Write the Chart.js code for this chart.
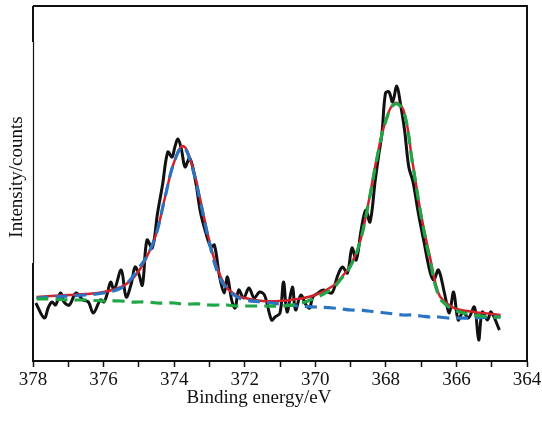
<!DOCTYPE html>
<html lang="en">
<head>
    <meta charset="UTF-8">
    <title>XPS spectrum</title>
    <style>
        body {
            margin: 0;
            padding: 0;
            background-color: #fff;
        }

        canvas {
            display: block;
        }
    </style>
</head>
<body>
    <canvas id="xpsChart" width="542" height="421"></canvas>

    <script src="https://cdn.jsdelivr.net/npm/chart.js"></script>
    <script>
        // raw spectrum (binding energy in eV, intensity in arbitrary units)
        const rawEnergy = [377.92, 377.68, 377.56, 377.46, 377.36, 377.22, 377.12, 376.97, 376.78, 376.58,
            376.43, 376.29, 376.09, 375.99, 375.89, 375.80, 375.70, 375.50, 375.36, 375.21,
            375.11, 375.01, 374.90, 374.77, 374.62, 374.47, 374.33, 374.18, 374.06, 373.98,
            373.89, 373.79, 373.69, 373.56, 373.40, 373.25, 373.10, 372.96, 372.86, 372.71,
            372.58, 372.49, 372.37, 372.27, 372.17, 372.03, 371.88, 371.73, 371.58, 371.44,
            371.24, 371.14, 371.00, 370.90, 370.80, 370.65, 370.56, 370.41, 370.26, 370.16,
            370.07, 369.92, 369.77, 369.53, 369.38, 369.23, 369.09, 368.96, 368.84, 368.70,
            368.57, 368.45, 368.30, 368.21, 368.11, 368.01, 367.91, 367.81, 367.69, 367.59,
            367.47, 367.35, 367.23, 367.08, 366.93, 366.74, 366.64, 366.51, 366.34, 366.20,
            366.08, 365.95, 365.81, 365.66, 365.49, 365.37, 365.27, 365.12, 365.02, 364.78];
        const rawCounts = [58, 43, 54, 59, 56, 68, 59, 56, 68, 61,
            59, 48, 61, 59, 68, 79, 71, 91, 64, 78,
            94, 88, 76, 121, 113, 148, 176, 209, 204, 214,
            222, 211, 194, 203, 181, 148, 128, 114, 116, 84,
            68, 84, 61, 53, 71, 63, 73, 63, 69, 66,
            41, 44, 48, 79, 49, 74, 51, 66, 56, 53,
            64, 68, 71, 68, 84, 94, 88, 113, 101, 131,
            151, 139, 181, 204, 228, 268, 269, 259, 275, 258,
            231, 194, 179, 148, 121, 88, 81, 91, 68, 48,
            69, 41, 49, 43, 54, 21, 49, 41, 49, 31];

        // fitted curves on a common energy grid
        const fitEnergy = [377.9, 377.5, 377.0, 376.5, 376.0, 375.5, 375.25, 375.0, 374.75, 374.5,
            374.25, 374.0, 373.75, 373.5, 373.25, 373.0, 372.75, 372.5, 372.25, 372.0,
            371.5, 371.0, 370.5, 370.0, 369.5, 369.25, 369.0, 368.75, 368.5, 368.25,
            368.0, 367.75, 367.5, 367.25, 367.0, 366.75, 366.5, 366.25, 366.0, 365.5,
            365.0, 364.75];
        const envelope = [64, 65, 66, 67, 69, 74, 80, 90, 106, 128,
            165, 199, 215, 197, 160, 120, 90, 73, 66, 63,
            60, 60, 62, 66, 75, 84, 96, 117, 157, 204,
            241, 258, 251, 200, 146, 104, 67, 57, 52, 49,
            47, 46];
        const peak1 = [63, 64, 65, 66, 68, 73, 81, 93, 106, 128,
            165, 199, 214, 195, 158, 118, 87, 72, 65, 61,
            59, 57, 55, 54, 53, 52, 51, 51, 50, 49,
            48, 47, 46, 46, 45, 44, 44, 43, 43, 43,
            44, 44];
        const peak2 = [62, 62, 61, 61, 60, 60, 59, 59, 59, 58,
            58, 58, 57, 57, 57, 56, 56, 56, 55, 55,
            55, 55, 57, 63, 73, 83, 95, 117, 156, 203,
            240, 257, 250, 199, 145, 101, 65, 55, 50, 46,
            44, 44];

        const xTicks = [378, 376, 374, 372, 370, 368, 366, 364];
        const xTitle = 'Binding energy/eV';
        const yTitle = 'Intensity/counts';

        function toPoints(xs, ys) {
            return xs.map((x, i) => ({ x: x, y: ys[i] }));
        }

        const serif = '"Liberation Serif", "DejaVu Serif", serif';

        // frame (top, right, left with a thinner middle part) and the two axis titles
        const framePlugin = {
            id: 'frame',
            afterDraw(chart) {
                const { ctx, chartArea } = chart;
                const { left, right, top, bottom } = chartArea;
                ctx.save();
                ctx.strokeStyle = '#111';
                ctx.lineWidth = 2;
                ctx.beginPath();
                ctx.moveTo(left, top);
                ctx.lineTo(right, top);
                ctx.lineTo(right, bottom);
                ctx.moveTo(left, top);
                ctx.lineTo(left, 42);
                ctx.moveTo(left, 263);
                ctx.lineTo(left, bottom);
                ctx.stroke();
                ctx.lineWidth = 1.2;
                ctx.beginPath();
                ctx.moveTo(left + 0.5, 42);
                ctx.lineTo(left + 0.5, 263);
                ctx.stroke();

                ctx.fillStyle = '#111';
                ctx.font = '19px ' + serif;
                ctx.textAlign = 'center';
                ctx.textBaseline = 'middle';
                ctx.fillText(xTitle, 259, 398);
                ctx.translate(17, 177);
                ctx.rotate(-Math.PI / 2);
                ctx.fillText(yTitle, 0, 0);
                ctx.restore();
            }
        };

        new Chart(document.getElementById('xpsChart'), {
            type: 'line',
            data: {
                datasets: [
                    {
                        label: 'Raw',
                        data: toPoints(rawEnergy, rawCounts),
                        borderColor: '#111111',
                        borderWidth: 3,
                        tension: 0.35,
                        pointRadius: 0,
                        order: 4
                    },
                    {
                        label: 'Envelope',
                        data: toPoints(fitEnergy, envelope),
                        borderColor: '#d0242c',
                        borderWidth: 2.5,
                        tension: 0.4,
                        pointRadius: 0,
                        order: 3
                    },
                    {
                        label: 'Peak 1',
                        data: toPoints(fitEnergy, peak1),
                        borderColor: '#2a74c4',
                        borderWidth: 3.2,
                        borderDash: [12, 7],
                        tension: 0.4,
                        pointRadius: 0,
                        order: 2
                    },
                    {
                        label: 'Peak 2',
                        data: toPoints(fitEnergy, peak2),
                        borderColor: '#1fa646',
                        borderWidth: 3.2,
                        borderDash: [12, 7],
                        tension: 0.4,
                        pointRadius: 0,
                        order: 1
                    }
                ]
            },
            options: {
                responsive: false,
                animation: false,
                layout: {
                    padding: { top: 6, right: 15, left: 0, bottom: 0 }
                },
                plugins: {
                    legend: { display: false },
                    tooltip: { enabled: false }
                },
                scales: {
                    x: {
                        type: 'linear',
                        reverse: true,
                        min: 364,
                        max: 378,
                        afterBuildTicks: scale => {
                            const t = [];
                            for (let v = 364; v <= 378; v++) t.push({ value: v });
                            scale.ticks = t;
                        },
                        afterFit: scale => { scale.height = 60; },
                        ticks: {
                            color: '#111',
                            font: { family: serif, size: 19 },
                            padding: 2,
                            maxRotation: 0,
                            autoSkip: false,
                            callback: v => xTicks.includes(v) ? String(v) : ''
                        },
                        grid: {
                            display: true,
                            drawOnChartArea: false,
                            drawTicks: true,
                            tickLength: 6,
                            tickWidth: 1.5,
                            tickColor: '#111'
                        },
                        border: { display: true, color: '#111', width: 2 }
                    },
                    y: {
                        min: 0,
                        max: 355,
                        afterFit: scale => { scale.width = 33; },
                        ticks: { display: false },
                        grid: { display: false },
                        border: { display: false }
                    }
                }
            },
            plugins: [framePlugin]
        });
    </script>
</body>
</html>
